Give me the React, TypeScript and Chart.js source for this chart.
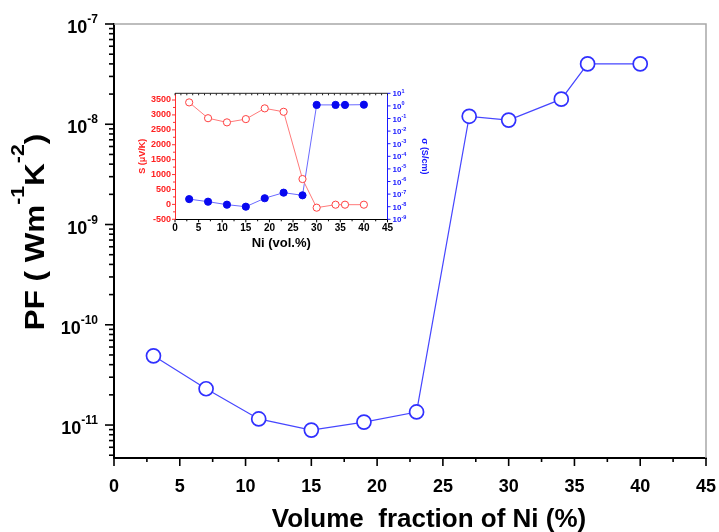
import React, { useEffect, useRef } from 'react';
import { Chart, registerables } from 'chart.js';
Chart.register(...registerables);

const FONT = "'Liberation Sans', Arial, Helvetica, sans-serif";

// ---- main chart data ----
const volumeFraction = [3, 7, 11, 15, 19, 23, 27, 30, 34, 36, 40];
const powerFactor = [4.9e-11, 2.3e-11, 1.15e-11, 8.9e-12, 1.07e-11, 1.35e-11, 1.2e-8, 1.1e-8, 1.78e-8, 4.0e-8, 4.0e-8];
const xTickValues = [0, 5, 10, 15, 20, 25, 30, 35, 40, 45];
const pfExponents = [-7, -8, -9, -10, -11];
const xTitle = 'Volume  fraction of Ni (%)';

// ---- inset data ----
const insetNi = [3, 7, 11, 15, 19, 23, 27, 30, 34, 36, 40];
const seebeck = [3420, 2890, 2750, 2860, 3220, 3105, 850, -110, -10, -10, -10];
const conductivity = [4e-8, 2.5e-8, 1.45e-8, 1e-8, 4.7e-8, 1.3e-7, 8e-8, 1.2, 1.2, 1.2, 1.25];
const seebeckTicks = [-500, 0, 500, 1000, 1500, 2000, 2500, 3000, 3500];
const sigmaExponents = [1, 0, -1, -2, -3, -4, -5, -6, -7, -8, -9];
const insetXTitle = 'Ni (vol.%)';
const insetSTitle = 'S (μV/K)';
const insetSigmaTitle = 'σ (S/cm)';

function line(ctx: CanvasRenderingContext2D, x1: number, y1: number, x2: number, y2: number) {
  ctx.beginPath();
  ctx.moveTo(x1, y1);
  ctx.lineTo(x2, y2);
  ctx.stroke();
}

function drawPower(ctx: CanvasRenderingContext2D, base: string, exp: string, x: number, baseY: number,
  baseSize: number, expSize: number, raise: number, color: string, align: 'left' | 'right') {
  ctx.save();
  ctx.fillStyle = color;
  ctx.textBaseline = 'alphabetic';
  ctx.textAlign = 'left';
  ctx.font = `bold ${expSize}px ${FONT}`;
  const we = ctx.measureText(exp).width;
  ctx.font = `bold ${baseSize}px ${FONT}`;
  const wb = ctx.measureText(base).width;
  const start = align === 'right' ? x - we - wb : x;
  ctx.fillText(base, start, baseY);
  ctx.font = `bold ${expSize}px ${FONT}`;
  ctx.fillText(exp, start + wb, baseY - raise);
  ctx.restore();
}

const noPad = (s: any) => {
  s.paddingLeft = 0;
  s.paddingRight = 0;
  s.paddingTop = 0;
  s.paddingBottom = 0;
};

const mainDecor = {
  id: 'mainDecor',
  afterDraw(chart: any) {
    const { ctx, chartArea: ca, scales } = chart;
    const x = scales.x;
    const y = scales.y;
    ctx.save();
    // top & right frame
    ctx.strokeStyle = '#a8a8a8';
    ctx.lineWidth = 1.5;
    ctx.beginPath();
    ctx.moveTo(ca.left, ca.top);
    ctx.lineTo(ca.right, ca.top);
    ctx.lineTo(ca.right, ca.bottom);
    ctx.stroke();
    // x ticks
    ctx.strokeStyle = '#000';
    ctx.lineWidth = 1.6;
    for (let v = 0; v <= 45; v += 2.5) {
      const px = x.getPixelForValue(v);
      const len = v % 5 === 0 ? 8 : 4;
      line(ctx, px, ca.bottom, px, ca.bottom + len);
    }
    // y ticks
    for (let e = -12; e <= -7; e++) {
      for (let m = 1; m <= 9; m++) {
        const v = m * Math.pow(10, e);
        if (v < y.min * 0.999 || v > y.max * 1.001) continue;
        const py = y.getPixelForValue(v);
        const len = m === 1 ? 9 : 5;
        line(ctx, ca.left - len, py, ca.left, py);
      }
    }
    // y tick labels
    for (const e of pfExponents) {
      const py = y.getPixelForValue(Math.pow(10, e));
      drawPower(ctx, '10', String(e), 98, py + 9, 18, 12, 10, '#000', 'right');
    }
    // y title
    ctx.save();
    ctx.translate(44, 232);
    ctx.rotate(-Math.PI / 2);
    ctx.scale(1.12, 1);
    const segs = [
      { t: 'PF ( Wm', s: 28, r: 0 },
      { t: '-1', s: 19, r: 20 },
      { t: 'K', s: 28, r: 0 },
      { t: '-2', s: 19, r: 20 },
      { t: ')', s: 28, r: 0 },
    ];
    let total = 0;
    for (const sg of segs) {
      ctx.font = `bold ${sg.s}px ${FONT}`;
      total += ctx.measureText(sg.t).width;
    }
    let cx = -total / 2;
    ctx.fillStyle = '#000';
    ctx.textBaseline = 'alphabetic';
    ctx.textAlign = 'left';
    for (const sg of segs) {
      ctx.font = `bold ${sg.s}px ${FONT}`;
      ctx.fillText(sg.t, cx, -sg.r);
      cx += ctx.measureText(sg.t).width;
    }
    ctx.restore();
    // x title
    ctx.font = `bold 26px ${FONT}`;
    ctx.fillStyle = '#000';
    ctx.textAlign = 'center';
    ctx.textBaseline = 'alphabetic';
    ctx.fillText(xTitle, 429, 527);
    ctx.restore();
  },
};

const insetDecor = {
  id: 'insetDecor',
  afterDraw(chart: any) {
    const { ctx, chartArea: ca, scales } = chart;
    const x = scales.x;
    const yS = scales.yS;
    const yG = scales.ySig;
    ctx.save();
    // top frame with small ticks
    ctx.strokeStyle = '#222';
    ctx.lineWidth = 1;
    line(ctx, ca.left, ca.top, ca.right, ca.top);
    for (let v = 0; v <= 45; v += 1.25) {
      const px = x.getPixelForValue(v);
      line(ctx, px, ca.top, px, ca.top + 2);
    }
    // bottom ticks
    ctx.strokeStyle = '#000';
    for (let v = 0; v <= 45; v += 2.5) {
      const px = x.getPixelForValue(v);
      line(ctx, px, ca.bottom, px, ca.bottom + (v % 5 === 0 ? 3 : 2));
    }
    // left red ticks
    ctx.strokeStyle = '#ff3030';
    for (let v = -500; v <= 3500; v += 250) {
      const py = yS.getPixelForValue(v);
      line(ctx, ca.left - (v % 500 === 0 ? 3 : 2), py, ca.left, py);
    }
    // right blue ticks + labels
    ctx.strokeStyle = '#1a1aff';
    for (const e of sigmaExponents) {
      const py = yG.getPixelForValue(Math.pow(10, e));
      line(ctx, ca.right, py, ca.right + 3, py);
      drawPower(ctx, '10', String(e), ca.right + 5, py + 3, 8, 5.5, 3.5, '#1a1aff', 'left');
    }
    ctx.restore();
  },
};

export default function App() {
  const mainRef = useRef<HTMLCanvasElement>(null);
  const insetRef = useRef<HTMLCanvasElement>(null);

  useEffect(() => {
    const main = new Chart(mainRef.current as HTMLCanvasElement, {
      type: 'line',
      data: {
        datasets: [
          {
            data: volumeFraction.map((v, i) => ({ x: v, y: powerFactor[i] })),
            borderColor: '#4646ff',
            borderWidth: 1.2,
            pointRadius: 7,
            pointBorderWidth: 1.7,
            pointBorderColor: '#3030ff',
            pointBackgroundColor: '#ffffff',
            tension: 0,
            clip: false as any,
          },
        ],
      },
      options: {
        responsive: false,
        animation: false,
        devicePixelRatio: 1,
        layout: { padding: { left: 0, right: 13, top: 24, bottom: 0 } },
        plugins: { legend: { display: false }, tooltip: { enabled: false } },
        scales: {
          x: {
            type: 'linear',
            min: 0,
            max: 45,
            afterBuildTicks: (s: any) => { s.ticks = xTickValues.map((v) => ({ value: v })); },
            afterFit: (s: any) => { s.height = 74; noPad(s); },
            ticks: {
              autoSkip: false,
              maxRotation: 0,
              padding: 18,
              color: '#000',
              font: { family: FONT, size: 18, weight: 'bold' },
            },
            grid: { display: false, drawTicks: false },
            border: { display: true, color: '#000', width: 2 },
          },
          y: {
            type: 'logarithmic',
            min: 4.69e-12,
            max: 1e-7,
            afterBuildTicks: (s: any) => { s.ticks = pfExponents.map((e) => ({ value: Math.pow(10, e) })); },
            afterFit: (s: any) => { s.width = 114; noPad(s); },
            ticks: { display: false },
            grid: { display: false, drawTicks: false },
            border: { display: true, color: '#000', width: 2 },
          },
        },
      } as any,
      plugins: [mainDecor],
    });

    const inset = new Chart(insetRef.current as HTMLCanvasElement, {
      type: 'line',
      data: {
        datasets: [
          {
            data: insetNi.map((v, i) => ({ x: v, y: seebeck[i] })),
            yAxisID: 'yS',
            borderColor: '#ff7a7a',
            borderWidth: 1,
            pointRadius: 3.6,
            pointBorderWidth: 1,
            pointBorderColor: '#ff4040',
            pointBackgroundColor: '#ffffff',
            tension: 0,
            clip: false as any,
          },
          {
            data: insetNi.map((v, i) => ({ x: v, y: conductivity[i] })),
            yAxisID: 'ySig',
            borderColor: '#6a6aff',
            borderWidth: 1,
            pointRadius: 3.6,
            pointBorderWidth: 1,
            pointBorderColor: '#0808f0',
            pointBackgroundColor: '#0808f0',
            tension: 0,
            clip: false as any,
          },
        ],
      },
      options: {
        responsive: false,
        animation: false,
        devicePixelRatio: 1,
        layout: { padding: { left: 0, right: 0, top: 15.3, bottom: 0 } },
        plugins: { legend: { display: false }, tooltip: { enabled: false } },
        scales: {
          x: {
            type: 'linear',
            position: 'bottom',
            min: 0,
            max: 45,
            afterBuildTicks: (s: any) => { s.ticks = xTickValues.map((v) => ({ value: v })); },
            afterFit: (s: any) => { s.height = 38.7; noPad(s); },
            ticks: {
              autoSkip: false,
              maxRotation: 0,
              padding: 2.5,
              color: '#000',
              font: { family: FONT, size: 10, weight: 'bold' },
            },
            title: {
              display: true,
              text: insetXTitle,
              color: '#000',
              font: { family: FONT, size: 13, weight: 'bold' },
              padding: { top: 0, bottom: 7 },
            },
            grid: { display: false, drawTicks: false },
            border: { display: true, color: '#000', width: 1 },
          },
          yS: {
            type: 'linear',
            position: 'left',
            min: -500,
            max: 3725,
            afterBuildTicks: (s: any) => { s.ticks = seebeckTicks.map((v) => ({ value: v })); },
            afterFit: (s: any) => { s.width = 55; noPad(s); },
            ticks: {
              autoSkip: false,
              padding: 4,
              color: '#ff2020',
              font: { family: FONT, size: 9, weight: 'bold' },
              callback: (v: any) => String(v),
            },
            title: {
              display: true,
              text: insetSTitle,
              color: '#ff2020',
              font: { family: FONT, size: 9, weight: 'bold' },
              padding: { top: 17.5, bottom: 0 },
            },
            grid: { display: false, drawTicks: false },
            border: { display: true, color: '#ff3030', width: 1 },
          },
          ySig: {
            type: 'logarithmic',
            position: 'right',
            min: 1e-9,
            max: 10,
            afterBuildTicks: (s: any) => { s.ticks = sigmaExponents.map((e) => ({ value: Math.pow(10, e) })); },
            afterFit: (s: any) => { s.width = 52.5; noPad(s); },
            ticks: { display: false },
            title: {
              display: true,
              text: insetSigmaTitle,
              color: '#1a1aff',
              font: { family: FONT, size: 9, weight: 'bold' },
              padding: { top: 10.6, bottom: 0 },
            },
            grid: { display: false, drawTicks: false },
            border: { display: true, color: '#1a1aff', width: 1 },
          },
        },
      } as any,
      plugins: [insetDecor],
    });

    return () => {
      main.destroy();
      inset.destroy();
    };
  }, []);

  return (
    <div style={{ position: 'fixed', left: 0, top: 0, width: 719, height: 532, background: '#fff' }}>
      <canvas
        ref={mainRef}
        width={719}
        height={532}
        style={{ position: 'absolute', left: 0, top: 0, width: 719, height: 532 }}
      />
      <canvas
        ref={insetRef}
        width={320}
        height={180}
        style={{ position: 'absolute', left: 120, top: 78, width: 320, height: 180 }}
      />
    </div>
  );
}
